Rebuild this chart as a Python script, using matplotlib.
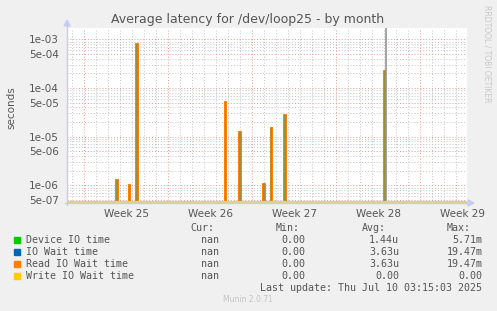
import matplotlib
matplotlib.use("Agg")
import matplotlib.pyplot as plt
import numpy as np

# ---- data (x in days from the left edge of the month window) ---------------
week_labels = ["Week 25", "Week 26", "Week 27", "Week 28", "Week 29"]
week_starts = [1.44, 8.44, 15.44, 22.44, 29.44]

spike_days = [4.14, 5.19, 5.78, 13.19, 14.36, 16.36, 16.98, 18.11, 26.44]
read_wait = [1.33e-06, 1.06e-06, 8.5e-04, 5.3e-05, 1.29e-05, 1.1e-06, 1.57e-05, 2.87e-05, 2.3e-04]
device_time = [1.25e-06, 1.0e-06, 8.0e-04, 5.3e-05, 1.2e-05, 1.0e-06, 1.5e-05, 2.7e-05, 2.1e-04]
peak_day = 26.61
peak_value = 19.47e-03

legend_names = ["Device IO time", "IO Wait time", "Read IO Wait time", "Write IO Wait time"]
legend_colors = ["#00cc00", "#0066b3", "#ff8000", "#ffcc00"]
cur_vals = ["nan", "nan", "nan", "nan"]
min_vals = ["0.00", "0.00", "0.00", "0.00"]
avg_vals = ["1.44u", "3.63u", "3.63u", "0.00"]
max_vals = ["5.71m", "19.47m", "19.47m", "0.00"]

X_MAX = 400 / 12.0
Y_MIN, Y_MAX = 4.33e-07, 1.706e-03

W, H = 497, 311
fig = plt.figure(figsize=(W / 100, H / 100), dpi=100, facecolor="#f0f0f0")
ax = fig.add_axes([67 / W, (H - 203) / H, 400 / W, 175 / H])
ax.set_facecolor("white")
ax.set_yscale("log")
ax.set_xlim(0, X_MAX)
ax.set_ylim(Y_MIN, Y_MAX)

# ---- grid -------------------------------------------------------------------
text_col = "#555555"
red_grid, gray_grid = "#e49a9a", "#c4c4c4"
for d in np.arange(week_starts[0] - 1, X_MAX, 1.0):
    is_major = any(abs(d - s) < 1e-6 for s in week_starts)
    ax.axvline(d, color=red_grid if is_major else gray_grid, lw=0.7,
               ls=(0, (1, 2)), zorder=1)
for dec in range(-7, -2):
    for m in range(1, 10):
        v = m * 10.0 ** dec
        if Y_MIN <= v <= Y_MAX:
            major = m in (1, 5)
            ax.axhline(v, color=red_grid if major else gray_grid, lw=0.7,
                       ls=(0, (1, 2)), zorder=1)

# ---- series -----------------------------------------------------------------
ax.bar(spike_days, np.array(read_wait) - Y_MIN, bottom=Y_MIN, width=0.2,
       color="#a58a3e", edgecolor="#ff8000", linewidth=0.7, zorder=3)
ax.bar(spike_days, np.array(device_time) - Y_MIN, bottom=Y_MIN, width=0.07,
       color="#8e9a3a", linewidth=0, alpha=0.5, zorder=4)
ax.vlines(peak_day, Y_MIN, peak_value, color="#8c8c8c", lw=1.1, zorder=4)
ax.axhline(Y_MIN * 1.03, color="#e0d08a", lw=1.6, zorder=5)

# ---- axes -------------------------------------------------------------------
for s in ax.spines.values():
    s.set_visible(False)
ax.tick_params(axis="both", which="both", length=0, colors=text_col, labelsize=7.5)
ax.set_xticks([s + 3.5 for s in week_starts])
ax.set_xticklabels(week_labels)
ax.tick_params(axis="x", pad=4)
ytick_vals = [5e-07, 1e-06, 5e-06, 1e-05, 5e-05, 1e-04, 5e-04, 1e-03]
ax.set_yticks(ytick_vals)
ax.set_yticklabels(["%.0e" % v for v in ytick_vals])
ax.yaxis.set_minor_locator(matplotlib.ticker.NullLocator())
ax.tick_params(axis="y", pad=6)

axis_col = "#c8ccf4"
fig.add_artist(plt.Line2D([67 / W, 67 / W], [(H - 205) / H, (H - 24) / H],
                          color=axis_col, lw=1.0))
fig.add_artist(plt.Line2D([65 / W, 470 / W], [(H - 203) / H, (H - 203) / H],
                          color=axis_col, lw=1.0))
fig.patches.append(matplotlib.patches.Polygon(
    [[64 / W, (H - 26) / H], [70 / W, (H - 26) / H], [67 / W, (H - 20) / H]],
    closed=True, color=axis_col, transform=fig.transFigure))
fig.patches.append(matplotlib.patches.Polygon(
    [[468 / W, (H - 200) / H], [468 / W, (H - 206) / H], [474 / W, (H - 203) / H]],
    closed=True, color=axis_col, transform=fig.transFigure))

# ---- texts ------------------------------------------------------------------
fig.text(248 / W, 1 - 19 / H, "Average latency for /dev/loop25 - by month",
         ha="center", va="center", fontsize=9.0, color=text_col)
fig.text(11 / W, 1 - 108 / H, "seconds", rotation=90, ha="center", va="center",
         fontsize=7.5, color=text_col)
fig.text(487 / W, 1 - 5 / H, "RRDTOOL / TOBI OETIKER", rotation=270, ha="center",
         va="top", fontsize=5.5, color="#c8c8c8")

mono = dict(family="DejaVu Sans Mono", fontsize=7.2, color=text_col, va="center")
header_y = 1 - 228 / H
fig.text(190 / W, header_y, "Cur:", ha="left", **mono)
fig.text(276 / W, header_y, "Min:", ha="left", **mono)
fig.text(362 / W, header_y, "Avg:", ha="left", **mono)
fig.text(447 / W, header_y, "Max:", ha="left", **mono)
for i, name in enumerate(legend_names):
    y = 1 - (240 + 12 * i) / H
    fig.patches.append(matplotlib.patches.Rectangle(
        (14 / W, y - 3 / H), 6 / W, 6 / H, color=legend_colors[i],
        transform=fig.transFigure))
    fig.text(26 / W, y, name, ha="left", **mono)
    fig.text(219.5 / W, y, cur_vals[i], ha="right", **mono)
    fig.text(305.5 / W, y, min_vals[i], ha="right", **mono)
    fig.text(399 / W, y, avg_vals[i], ha="right", **mono)
    fig.text(482.5 / W, y, max_vals[i], ha="right", **mono)
fig.text(482.5 / W, 1 - 288 / H, "Last update: Thu Jul 10 03:15:03 2025",
         ha="right", **mono)
fig.text(248 / W, 1 - 299.5 / H, "Munin 2.0.71", ha="center", va="center",
         fontsize=5.5, color="#c4c4c4")

fig.savefig("out.png", dpi=100, facecolor=fig.get_facecolor())
